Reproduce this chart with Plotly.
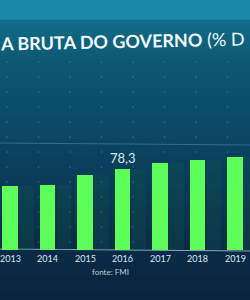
import plotly.graph_objects as go
import numpy as np

# ---- data ----
years = ["2013", "2014", "2015", "2016", "2017", "2018", "2019"]
debt_pct_gdp = [61.6, 62.5, 72.5, 78.3, 84.0, 87.0, 89.5]
highlight_year = "2016"
title_bold = "A BRUTA DO GOVERNO"
title_light = " (% D"
source_text = "fonte: FMI"

W, H = 250, 300
FONT = "Lato, Open Sans, sans-serif"
fig = go.Figure()

x_idx = list(range(len(years)))

# ghost (shadow) bars behind
fig.add_trace(go.Bar(
    x=x_idx, y=debt_pct_gdp, width=0.38, offset=0.25,
    marker=dict(color="rgba(20,100,70,0.22)", line=dict(width=0)),
    hoverinfo="skip", showlegend=False,
))
# main bars
fig.add_trace(go.Bar(
    x=x_idx, y=debt_pct_gdp, width=0.42,
    marker=dict(color="#5dfd5a", line=dict(width=0)),
    showlegend=False,
))

# ---- background gradient strips ----
stops = [(0.0, (24, 137, 166)), (0.07, (24, 137, 166)), (0.075, (16, 108, 135)),
         (0.2, (13, 90, 118)), (0.5, (11, 68, 96)), (0.8, (10, 46, 74)), (1.0, (11, 36, 62))]
shapes = []
n = 60
for i in range(n):
    t0, t1 = i / n, (i + 1) / n
    tm = (t0 + t1) / 2
    for j in range(len(stops) - 1):
        a, ca = stops[j]
        b, cb = stops[j + 1]
        if a <= tm <= b:
            f = 0 if b == a else (tm - a) / (b - a)
            c = tuple(int(ca[k] + (cb[k] - ca[k]) * f) for k in range(3))
            break
    shapes.append(dict(type="rect", xref="paper", yref="paper", x0=0, x1=1,
                       y0=1 - t1 - 0.001, y1=1 - t0 + 0.001, layer="below",
                       line=dict(width=0), fillcolor="rgb(%d,%d,%d)" % c))

# faint horizontal line
shapes.append(dict(type="line", xref="paper", yref="paper", x0=0, x1=1,
                   y0=1 - 143 / H, y1=1 - 145 / H, layer="below",
                   line=dict(color="rgba(120,180,200,0.35)", width=1)))
# baseline line
shapes.append(dict(type="line", xref="paper", yref="paper", x0=0, x1=1,
                   y0=1 - 249 / H, y1=1 - 251 / H, layer="below",
                   line=dict(color="rgba(200,220,230,0.7)", width=1)))

# decorative dot grid
for gx in np.arange(7, W, 31.5):
    for gy in np.arange(62, 250, 15):
        shapes.append(dict(type="circle", xref="paper", yref="paper",
                           x0=(gx - 0.8) / W, x1=(gx + 0.8) / W,
                           y0=1 - (gy + 0.8) / H, y1=1 - (gy - 0.8) / H,
                           layer="below", line=dict(width=0),
                           fillcolor="rgba(110,170,195,0.45)"))

annotations = []
# title
annotations.append(dict(
    xref="paper", yref="paper", x=-0.008, y=1 - 41 / H, xanchor="left", yanchor="middle",
    text="<b>" + title_bold + "</b>" + title_light, showarrow=False, textangle=-1.2,
    font=dict(family=FONT, size=18, color="#f2f8fa"),
))
# value label on highlighted bar
hi = years.index(highlight_year)
annotations.append(dict(
    x=hi, y=debt_pct_gdp[hi], xref="x", yref="y", yanchor="bottom", yshift=1,
    text=("%.1f" % debt_pct_gdp[hi]).replace(".", ","), showarrow=False,
    font=dict(family=FONT, size=13, color="#d8eaf0"),
))
# year labels
for i, yr in enumerate(years):
    annotations.append(dict(
        x=i, xref="x", yref="paper", y=1 - 258 / H, yanchor="middle",
        text=yr, showarrow=False,
        font=dict(family=FONT, size=9, color="#dfe8ee"),
    ))
# source
annotations.append(dict(
    xref="paper", yref="paper", x=110 / W, y=1 - 272 / H, xanchor="center", yanchor="middle",
    text=source_text, showarrow=False,
    font=dict(family=FONT, size=8, color="#b8ccd8"),
))

fig.update_layout(
    width=W, height=H, margin=dict(l=0, r=0, t=0, b=0),
    paper_bgcolor="#0b3050", plot_bgcolor="rgba(0,0,0,0)",
    shapes=shapes, annotations=annotations, bargap=0, barmode="overlay",
    xaxis=dict(range=[-0.27, 6.4], showticklabels=False,
               showgrid=False, zeroline=False, showline=False, ticks="",
               fixedrange=True),
    yaxis=dict(domain=[1 - 250 / H, 1], range=[0, 250 / 1.034], visible=False,
               showgrid=False, zeroline=False, fixedrange=True),
    showlegend=False,
)

fig.write_html("out.html", config={"displayModeBar": False})
